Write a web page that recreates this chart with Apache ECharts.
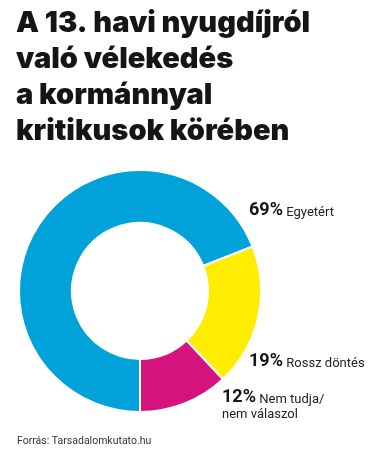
<!DOCTYPE html>
<html>
<head>
<meta charset="utf-8">
<script src="https://cdn.jsdelivr.net/npm/echarts@6/dist/echarts.min.js"></script>
<style>
  html, body { margin: 0; padding: 0; background: #fff; }
  #chartmain { width: 378px; height: 457px; }
</style>
</head>
<body>
<div id="chartmain"></div>
<script>
// adatok
var categories = ['Egyetért', 'Rossz döntés', 'Nem tudja/\nnem válaszol'];
var values = [69, 19, 12];
var colors = ['#00a2d9', '#ffed00', '#d5137f'];

// címkék helye (bal szél, függőleges közép)
var labelPos = [
  { x: 249, y: 210 },
  { x: 249, y: 361 },
  { x: 222, y: 405 }
];

var myChart = echarts.init(document.getElementById('chartmain'));
myChart.setOption({
  animation: false,
  title: [{
    text: 'A 13. havi nyugdíjról\nvaló vélekedés\na kormánnyal\nkritikusok körében',
    left: 11,
    top: 0,
    textStyle: {
      fontFamily: 'Inter',
      fontWeight: 900,
      fontSize: 29,
      lineHeight: 36,
      color: '#151515'
    }
  }, {
    text: 'Forrás: Tarsadalomkutato.hu',
    left: 12,
    top: 431,
    textStyle: {
      fontFamily: 'Roboto',
      fontWeight: 'normal',
      fontSize: 10.5,
      color: '#333'
    }
  }],
  series: [{
    type: 'pie',
    center: [140, 291],
    radius: [68, 121],
    startAngle: -90,
    clockwise: true,
    avoidLabelOverlap: false,
    itemStyle: {
      borderColor: '#fff',
      borderWidth: 2
    },
    labelLine: { show: false },
    label: {
      show: true,
      position: 'outside',
      overflow: 'none',
      formatter: function (p) {
        var lines = p.name.split('\n');
        var s = '{p|' + p.value + '%} {n|' + lines[0] + '}';
        for (var i = 1; i < lines.length; i++) s += '\n{n|' + lines[i] + '}';
        return s;
      },
      rich: {
        p: { fontFamily: 'Roboto', fontWeight: 'bold', fontSize: 18, color: '#151515', verticalAlign: 'bottom', lineHeight: 18 },
        n: { fontFamily: 'Roboto', fontSize: 13, color: '#222', verticalAlign: 'bottom', lineHeight: 15 }
      }
    },
    labelLayout: function (params) {
      var pos = labelPos[params.dataIndex];
      return { x: pos.x, y: pos.y, align: 'left', verticalAlign: 'middle', hideOverlap: false };
    },
    emphasis: { disabled: true },
    data: categories.map(function (c, i) {
      return { name: c, value: values[i], itemStyle: { color: colors[i] } };
    })
  }]
});
</script>
</body>
</html>
